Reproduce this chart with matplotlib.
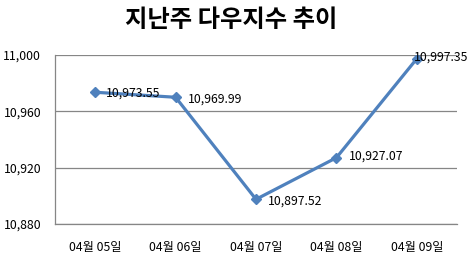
import matplotlib
matplotlib.use("Agg")
import matplotlib.pyplot as plt

categories = ["04월 05일", "04월 06일", "04월 07일", "04월 08일", "04월 09일"]
values = [10973.55, 10969.99, 10897.52, 10927.07, 10997.35]
value_labels = ["10,973.55", "10,969.99", "10,897.52", "10,927.07", "10,997.35"]
yticks = [10880, 10920, 10960, 11000]
ytick_labels = ["10,880", "10,920", "10,960", "11,000"]
title = "지난주 다우지수 추이"

plt.rcParams['font.family'] = ['Noto Sans CJK KR', 'DejaVu Sans']

fig = plt.figure(figsize=(4.7, 2.63), dpi=100)
ax = fig.add_axes([55/470, 1-224/263, 402/470, 169/263])

x = list(range(len(categories)))
ax.plot(x, values, color="#4F81BD", lw=2.3, marker="D", ms=5.5,
        markerfacecolor="#4F81BD", markeredgecolor="#4F81BD", zorder=3)

offsets = [(8, -1), (9, -1.5), (8.5, -1), (9, 1), (-2, 1)]
for xi, v, lab, off in zip(x, values, value_labels, offsets):
    ax.annotate(lab, (xi, v), xytext=off, textcoords="offset points",
                ha="left", va="center", fontsize=8.8, color="black", zorder=4)

ax.set_xlim(-0.5, len(categories) - 0.5)
ax.set_ylim(10880, 11000)
ax.set_yticks(yticks)
ax.set_yticklabels(ytick_labels, fontsize=8.8)
ax.set_xticks(x)
ax.set_xticklabels(categories, fontsize=8.8)
ax.tick_params(axis="both", length=0)
ax.tick_params(axis="y", pad=10)
ax.tick_params(axis="x", pad=12)
ax.grid(axis="y", color="#868686", lw=0.9)
ax.set_axisbelow(True)
for s in ["top", "right"]:
    ax.spines[s].set_visible(False)
for s in ["left", "bottom"]:
    ax.spines[s].set_color("#868686")
    ax.spines[s].set_linewidth(0.9)

fig.text(231/470, 1-20/263, title, ha="center", va="center",
         fontsize=17.5, fontweight="bold")

fig.savefig("out.png", dpi=100)
